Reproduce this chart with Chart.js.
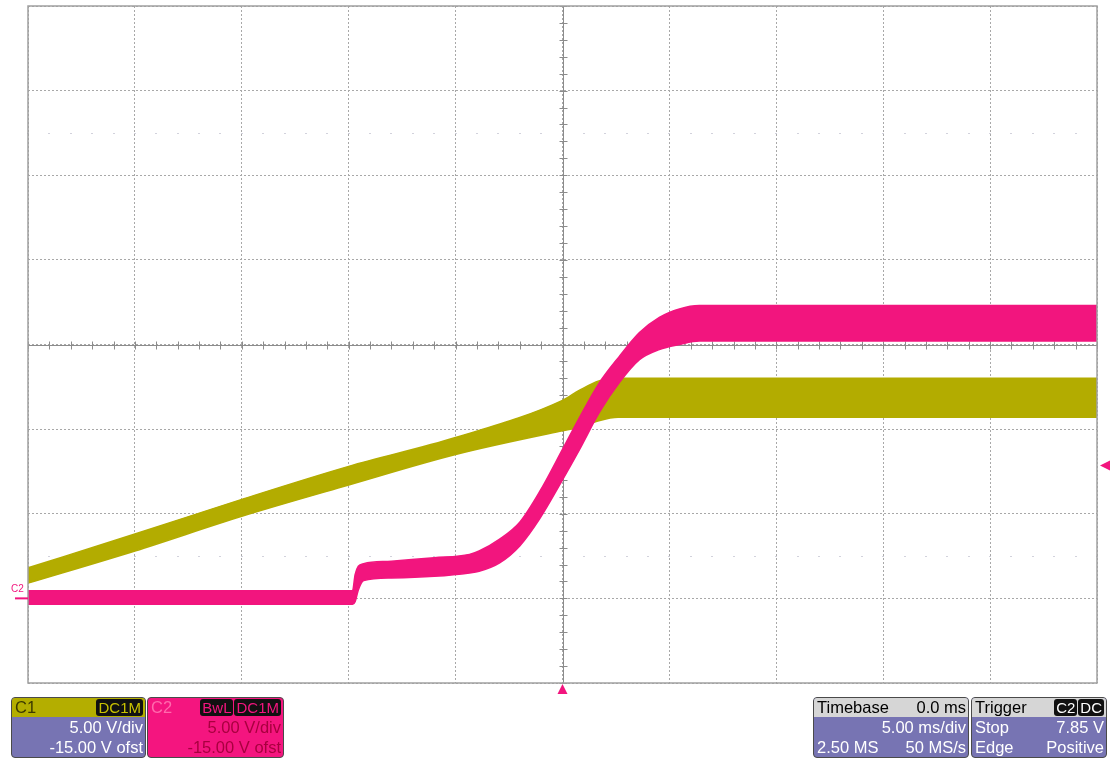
<!DOCTYPE html>
<html>
<head>
<meta charset="utf-8">
<script src="https://cdn.jsdelivr.net/npm/chart.js@4.4.1/dist/chart.umd.min.js"></script>
<style>
  body { margin: 0; background: #fff; font-family: "Liberation Sans", Arial, sans-serif; }
  #wrap { position: relative; width: 1113px; height: 760px; }
  .box { position: absolute; top: 697px; height: 59px; border: 1px solid #4a4a4a; border-radius: 4px;
         overflow: hidden; background: #7774b3; color: #fff; font-size: 16.5px; }
  .head { height: 19px; line-height: 19px; padding: 0 2px 0 3px; display: flex; justify-content: space-between; }
  .row { height: 20px; line-height: 20px; padding: 0 2px 0 3px; display: flex; justify-content: space-between; }
  .pill { background: #111; border-radius: 3px; padding: 0 2px; margin-left: 1px; font-size: 15px; }
</style>
</head>
<body>
<div id="wrap">
  <canvas id="scope" width="1113" height="760"></canvas>

  <div class="box" style="left:11px;width:133px;">
    <div class="head" style="background:#b4ae00;color:#3b3900;"><span>C1</span><span><span class="pill" style="color:#c9c200;">DC1M</span></span></div>
    <div class="row"><span></span><span>5.00 V/div</span></div>
    <div class="row"><span></span><span>-15.00 V ofst</span></div>
  </div>

  <div class="box" style="left:147px;width:135px;background:#f4157f;color:#a8003f;">
    <div class="head" style="color:#ff6aad;"><span>C2</span><span><span class="pill" style="color:#f4157f;">BwL</span><span class="pill" style="color:#f4157f;">DC1M</span></span></div>
    <div class="row"><span></span><span>5.00 V/div</span></div>
    <div class="row"><span></span><span>-15.00 V ofst</span></div>
  </div>

  <div class="box" style="left:813px;width:154px;">
    <div class="head" style="background:#d6d6d6;color:#000;"><span>Timebase</span><span>0.0 ms</span></div>
    <div class="row"><span></span><span>5.00 ms/div</span></div>
    <div class="row"><span>2.50 MS</span><span>50 MS/s</span></div>
  </div>

  <div class="box" style="left:971px;width:134px;">
    <div class="head" style="background:#d6d6d6;color:#000;"><span>Trigger</span><span><span class="pill" style="color:#fff;">C2</span><span class="pill" style="color:#fff;">DC</span></span></div>
    <div class="row"><span>Stop</span><span>7.85 V</span></div>
    <div class="row"><span>Edge</span><span>Positive</span></div>
  </div>
</div>

<script>
// time in ms, voltage in V (band edges of each noisy trace)
const c1Time  = [-25, -20, -15, -10, -5, 0, 0.8, 1.7, 2.6, 5, 10, 15, 20, 25];
const c1Upper = [1.8, 3.8, 5.85, 7.8, 9.5, 11.7, 12.3, 12.85, 13.0, 13.0, 13.0, 13.0, 13.0, 13.0];
const c1Lower = [0.9, 2.8, 4.85, 6.7, 8.5, 9.9, 10.1, 10.5, 10.7, 10.7, 10.7, 10.7, 10.7, 10.7];

const c2Time  = [-25, -9.82, -9.7, -9.55, -9.3, -8, -6, -4.35, -3.9, -2.94, -2.0, -1.07, 0, 0.8, 1.73, 2.66, 3.6, 4.53, 5.47, 6.4, 10, 15, 20, 25];
const c2Upper = [0.45, 0.45, 1.4, 1.9, 2.05, 2.2, 2.4, 2.6, 2.8, 3.5, 4.5, 6.3, 8.8, 10.7, 12.75, 14.3, 15.7, 16.6, 17.1, 17.3, 17.3, 17.3, 17.3, 17.3];
const c2Lower = [-0.35, -0.35, -0.2, 0.5, 1.05, 1.2, 1.3, 1.5, 1.6, 2.1, 3.1, 4.7, 7.0, 8.8, 11.0, 12.75, 14.1, 14.7, 15.0, 15.2, 15.2, 15.2, 15.2, 15.2];

const timeTicks = [-25, -20, -15, -10, -5, 0, 5, 10, 15, 20, 25];
const voltTicks = [-5, 0, 5, 10, 15, 20, 25, 30, 35];
const triggerLevel = 7.85;
const groundLevel = 0;

const C1_COLOR = '#b3ac00';
const C2_COLOR = '#f2157e';

const pts = (xs, ys) => xs.map((x, i) => ({ x, y: ys[i] }));

const scopeDecor = {
  id: 'scopeDecor',
  beforeDatasetsDraw(chart) {
    const { ctx, chartArea: a, scales: { x, y } } = chart;
    ctx.save();
    // faint dot rows at +/- 2.5 div
    ctx.fillStyle = '#d2d2dc';
    for (const v of [27.5, 2.5]) {
      for (let t = -25; t <= 25; t++) {
        ctx.fillRect(Math.round(x.getPixelForValue(t)) - 1, Math.round(y.getPixelForValue(v)), 2, 1);
      }
    }
    // centre axes with minor ticks
    const cx = Math.round(x.getPixelForValue(0)) + 0.5;
    const cy = Math.round(y.getPixelForValue(15)) + 0.5;
    ctx.strokeStyle = '#8c8c8c';
    ctx.lineWidth = 1;
    ctx.beginPath();
    ctx.moveTo(a.left, cy); ctx.lineTo(a.right, cy);
    ctx.moveTo(cx, a.top); ctx.lineTo(cx, a.bottom);
    for (let t = -25; t <= 25; t++) {
      const px = Math.round(x.getPixelForValue(t)) + 0.5;
      ctx.moveTo(px, cy - 4); ctx.lineTo(px, cy + 4);
    }
    for (let v = -5; v <= 35; v++) {
      const py = Math.round(y.getPixelForValue(v)) + 0.5;
      ctx.moveTo(cx - 4, py); ctx.lineTo(cx + 4, py);
    }
    ctx.stroke();
    ctx.restore();
  },
  afterDatasetsDraw(chart) {
    const { ctx, chartArea: a, scales: { x, y } } = chart;
    ctx.save();
    ctx.strokeStyle = '#a0a0a0';
    ctx.lineWidth = 1.5;
    ctx.strokeRect(a.left, a.top, a.right - a.left, a.bottom - a.top);

    // C2 ground marker
    const gy = y.getPixelForValue(groundLevel);
    ctx.fillStyle = C2_COLOR;
    ctx.strokeStyle = C2_COLOR;
    ctx.lineWidth = 2;
    ctx.beginPath();
    ctx.moveTo(a.left - 13, gy); ctx.lineTo(a.left, gy);
    ctx.stroke();
    ctx.font = '10px "Liberation Sans", Arial, sans-serif';
    ctx.textBaseline = 'bottom';
    ctx.fillText('C2', a.left - 17, gy - 4);

    // trigger position (bottom) and level (right)
    const tx = x.getPixelForValue(0);
    ctx.beginPath();
    ctx.moveTo(tx, a.bottom + 1); ctx.lineTo(tx + 5, a.bottom + 11); ctx.lineTo(tx - 5, a.bottom + 11);
    ctx.closePath(); ctx.fill();
    const ty = y.getPixelForValue(triggerLevel);
    ctx.beginPath();
    ctx.moveTo(a.right + 3, ty); ctx.lineTo(a.right + 13, ty - 5); ctx.lineTo(a.right + 13, ty + 5);
    ctx.closePath(); ctx.fill();
    ctx.restore();
  }
};

new Chart(document.getElementById('scope').getContext('2d'), {
  type: 'line',
  data: {
    datasets: [
      { label: 'C2 upper', data: pts(c2Time, c2Upper), borderColor: C2_COLOR, borderWidth: 1.5, fill: false, order: 0 },
      { label: 'C2 lower', data: pts(c2Time, c2Lower), borderColor: C2_COLOR, borderWidth: 1.5, backgroundColor: C2_COLOR, fill: '-1', order: 0 },
      { label: 'C1 upper', data: pts(c1Time, c1Upper), borderColor: C1_COLOR, borderWidth: 1.5, fill: false, order: 1 },
      { label: 'C1 lower', data: pts(c1Time, c1Lower), borderColor: C1_COLOR, borderWidth: 1.5, backgroundColor: C1_COLOR, fill: '-1', order: 1 },
    ],
  },
  options: {
    responsive: false,
    animation: false,
    layout: { autoPadding: false, padding: { left: 28, top: 6, right: 16, bottom: 77 } },
    elements: { point: { radius: 0 }, line: { cubicInterpolationMode: 'monotone' } },
    plugins: { legend: { display: false }, tooltip: { enabled: false } },
    scales: {
      x: {
        type: 'linear', min: timeTicks[0], max: timeTicks[timeTicks.length - 1],
        afterBuildTicks: (s) => { s.ticks = timeTicks.map((v) => ({ value: v })); },
        ticks: { display: false },
        grid: { color: '#a8a8a8', drawTicks: false },
        border: { display: false, dash: [2, 2] },
      },
      y: {
        min: voltTicks[0], max: voltTicks[voltTicks.length - 1],
        afterBuildTicks: (s) => { s.ticks = voltTicks.map((v) => ({ value: v })); },
        ticks: { display: false },
        grid: { color: '#a8a8a8', drawTicks: false },
        border: { display: false, dash: [2, 2] },
      },
    },
  },
  plugins: [scopeDecor],
});
</script>
</body>
</html>
